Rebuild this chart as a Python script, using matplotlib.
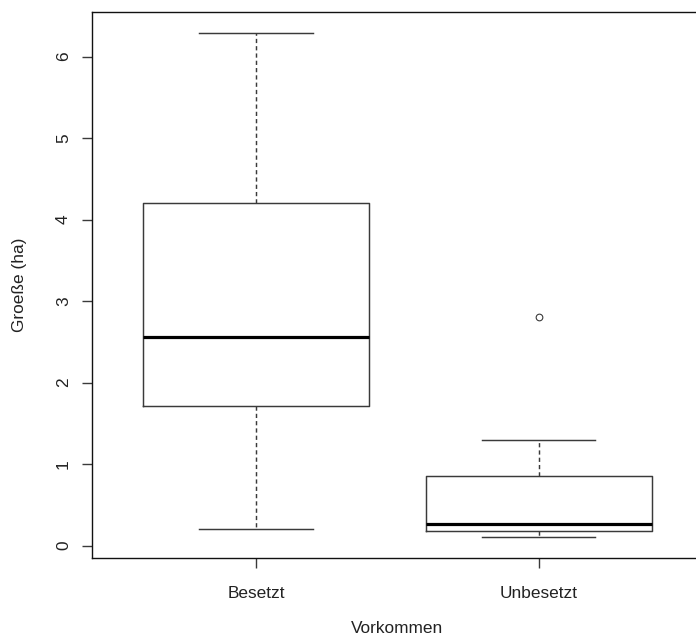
import numpy as np
import matplotlib.pyplot as plt

plt.rcParams['font.family'] = ['Liberation Sans', 'DejaVu Sans']

# Werte
gruppen = ['Besetzt', 'Unbesetzt']
unt_whisker = [0.21, 0.11]
q1 = [1.71, 0.18]
median = [2.56, 0.27]
q3 = [4.20, 0.85]
ob_whisker = [6.29, 1.30]
ausreisser = [[], [2.81]]

stats = []
for i in range(len(gruppen)):
    stats.append(dict(label=gruppen[i], whislo=unt_whisker[i], q1=q1[i],
                      med=median[i], q3=q3[i], whishi=ob_whisker[i],
                      fliers=ausreisser[i]))

fig = plt.figure(figsize=(6.96, 6.43), dpi=100)
ax = fig.add_axes([92/696, (643-558.3)/643, (702.7-92)/696, (558.3-12)/643])

lc = '#3a3a3a'
ax.bxp(stats, positions=[1, 2], widths=0.8, patch_artist=False,
       boxprops=dict(color=lc, linewidth=1.05),
       whiskerprops=dict(color=lc, linewidth=1.05, linestyle=(0, (2.9, 2.1))),
       capprops=dict(color=lc, linewidth=1.05),
       medianprops=dict(color='black', linewidth=2.3, solid_capstyle='butt'),
       flierprops=dict(marker='o', markersize=4.8, markerfacecolor='none',
                       markeredgecolor=lc, markeredgewidth=0.8),
       capwidths=0.4)

ax.set_xlim(0.42, 2.58)
ax.set_ylim(-0.155, 6.548)
ax.set_yticks(np.arange(0, 7, 1))
ax.set_xticks([1, 2])
ax.set_xticklabels(gruppen)

for s in ax.spines.values():
    s.set_linewidth(1.0)
    s.set_color('#111111')

ax.tick_params(axis='both', length=7.2, width=1.0, color='#3a3a3a',
               labelsize=12.4, labelcolor='#222222')
ax.tick_params(axis='x', pad=13)
ax.tick_params(axis='y', pad=8)
for lab in ax.get_yticklabels():
    lab.set_rotation(90)
    lab.set_va('center')

ax.set_xlabel('Vorkommen', fontsize=12.4, color='#222222', labelpad=14)
ax.set_ylabel('Groeße (ha)', fontsize=12.4, color='#222222', labelpad=21)

fig.savefig('out.png', dpi=100)
